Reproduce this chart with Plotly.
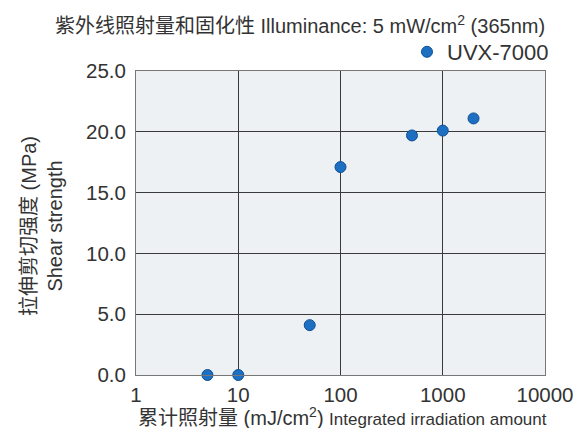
import plotly.graph_objects as go

# Integrated irradiation (mJ/cm2) vs shear strength (MPa), UVX-7000
dose = [5, 10, 50, 100, 500, 1000, 2000]
strength = [0.0, 0.0, 4.1, 17.1, 19.7, 20.1, 21.1]

x_ticks = [1, 10, 100, 1000, 10000]
y_ticks = [0, 5, 10, 15, 20, 25]

FONT = "Liberation Sans, Arial, Noto Sans CJK SC, sans-serif"
TEXT = "#333333"

fig = go.Figure()
fig.add_scatter(
    x=dose, y=strength, mode="markers", name="UVX-7000",
    marker=dict(size=11, color="#1d6fc2", line=dict(color="#0f4f98", width=1)),
    cliponaxis=False,
)

axis_common = dict(
    showgrid=True, gridcolor="#3a3a3a", gridwidth=1,
    showline=True, linecolor="#777777", mirror=True,
    ticks="outside", tickcolor="rgba(0,0,0,0)",
    zeroline=False, automargin=False,
)
fig.update_xaxes(
    type="log", range=[0, 4],
    tickvals=x_ticks, ticktext=[str(v) for v in x_ticks],
    ticklen=1, tickfont=dict(size=20.5, color=TEXT, family=FONT),
    **axis_common,
)
fig.update_yaxes(
    range=[0, 25], tickvals=y_ticks, tickformat=".1f",
    ticklen=5, tickfont=dict(size=20.5, color=TEXT, family=FONT),
    **axis_common,
)

# chart title (top right)
fig.add_annotation(
    text="紫外线照射量和固化性 Illuminance: 5 mW/cm<sup>2</sup> (365nm)",
    xref="paper", yref="paper", x=1.0, y=1.0, xshift=2, yshift=47,
    xanchor="right", yanchor="middle", showarrow=False,
    font=dict(size=20, color=TEXT, family=FONT),
)
# x axis title
fig.add_annotation(
    text="累计照射量 (mJ/cm<sup>2</sup>) <span style='font-size:17px'>Integrated irradiation amount</span>",
    xref="paper", yref="paper", x=0.505, y=0.0, yshift=-41,
    xanchor="center", yanchor="middle", showarrow=False,
    font=dict(size=20, color=TEXT, family=FONT),
)
# y axis title
fig.add_annotation(
    text="拉伸剪切强度 (MPa)<br>Shear strength",
    xref="paper", yref="paper", x=0.0, y=0.5, xshift=-94, yshift=-3,
    xanchor="center", yanchor="middle", textangle=-90, showarrow=False,
    font=dict(size=20, color=TEXT, family=FONT),
)

fig.update_layout(
    width=576, height=428,
    margin=dict(l=136, r=31, t=71, b=53),
    paper_bgcolor="white", plot_bgcolor="#edf1f4",
    showlegend=True,
    legend=dict(
        x=1.022, y=1.0625, xanchor="right", yanchor="middle",
        font=dict(size=22, color=TEXT, family=FONT),
        bgcolor="rgba(0,0,0,0)",
    ),
)

# the page's default 8px body margin would shift the whole figure
fig.write_html(
    "out.html",
    config={"displayModeBar": False},
    post_script="document.body.style.margin='0';",
)
